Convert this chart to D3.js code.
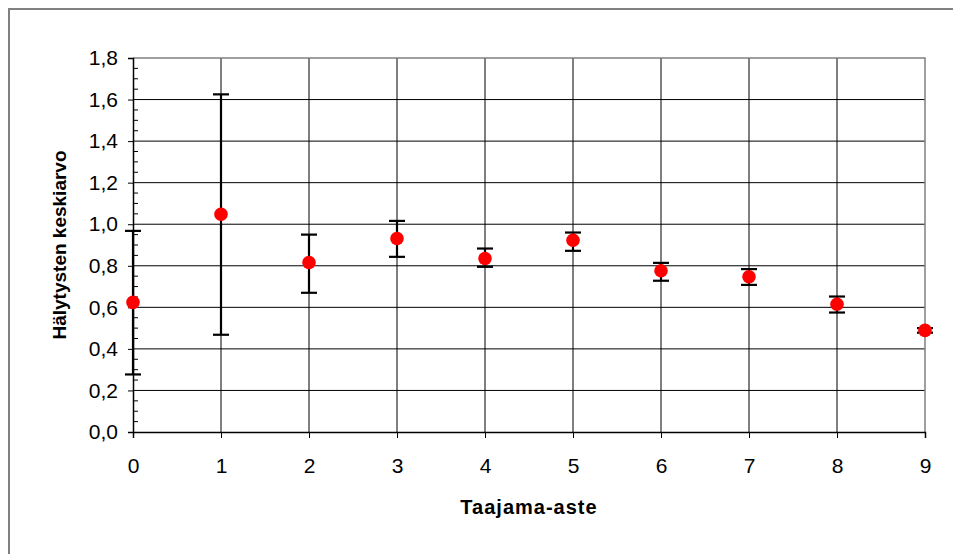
<!DOCTYPE html>
<html lang="fi">
<head>
	<meta charset="utf-8">
	<title>Hälytysten keskiarvo</title>
	<script src="https://d3js.org/d3.v7.min.js"></script>
	<style type="text/css">
		body{ margin: 0; background: #fff; }
		svg{ display: block; font-family: "Liberation Sans", Arial, sans-serif; }
	</style>
</head>
<body>
	<svg id="chart" width="953" height="554"></svg>

	<script type="text/javascript">

	// data
	var categories = [0, 1, 2, 3, 4, 5, 6, 7, 8, 9]
	var means = [0.624, 1.048, 0.816, 0.931, 0.835, 0.923, 0.776, 0.747, 0.615, 0.489]
	var upper = [0.968, 1.625, 0.950, 1.016, 0.883, 0.960, 0.814, 0.784, 0.652, 0.500]
	var lower = [0.277, 0.468, 0.670, 0.843, 0.795, 0.872, 0.728, 0.708, 0.575, 0.478]
	var yTicks = [0, 0.2, 0.4, 0.6, 0.8, 1.0, 1.2, 1.4, 1.6, 1.8]

	var xTitle = "Taajama-aste"
	var yTitle = "Hälytysten keskiarvo"

	var margin = {top: 58, left: 133, right: 28, bottom: 122}
	var W = 953, H = 554
	var width = W - margin.left - margin.right
	var height = H - margin.top - margin.bottom

	var fmt = d => d3.format(".1f")(d).replace(".", ",")

	var svg = d3.select("#chart")

	// outer chart frame (runs off the bottom/right of the picture)
	svg.append("rect")
		.attr("x", 9).attr("y", 9)
		.attr("width", 1000).attr("height", 600)
		.attr("fill", "none")
		.attr("stroke", "#808080")
		.attr("stroke-width", 2)

	var g = svg.append("g")
		.attr("transform", "translate(" + margin.left + "," + margin.top + ")")

	var x = d3.scaleLinear().domain([0, 9]).range([0, width])
	var y = d3.scaleLinear().domain([0, 1.8]).range([height, 0])

	// horizontal grid
	g.append("g")
		.selectAll("line")
		.data(yTicks.filter(d => d > 0 && d < 1.8))
		.join("line")
		.attr("x1", 0).attr("x2", width)
		.attr("y1", d => y(d)).attr("y2", d => y(d))
		.attr("stroke", "#000").attr("stroke-width", 1)

	// vertical grid
	g.append("g")
		.selectAll("line")
		.data(categories.filter(d => d > 0 && d < 9))
		.join("line")
		.attr("x1", d => x(d)).attr("x2", d => x(d))
		.attr("y1", 0).attr("y2", height)
		.attr("stroke", "#000").attr("stroke-width", 1)

	// plot area border top / right
	g.append("path")
		.attr("d", "M0," + y(1.8) + "H" + x(9) + "V" + height)
		.attr("fill", "none")
		.attr("stroke", "#808080")
		.attr("stroke-width", 1.5)

	// y axis
	var yAxis = g.append("g")
		.call(d3.axisLeft(y).tickValues(yTicks).tickFormat(fmt).tickSize(5).tickPadding(10))
	yAxis.select(".domain").attr("stroke", "#000").attr("stroke-width", 1.5)
	yAxis.selectAll("text").attr("font-size", 21).attr("fill", "#000")
		.attr("font-family", "Liberation Sans, Arial, sans-serif")

	// minor ticks inside
	g.append("g")
		.selectAll("line")
		.data(d3.range(0, 37).map(i => i * 0.05).filter((d, i) => i % 4 != 0))
		.join("line")
		.attr("x1", 0).attr("x2", 5)
		.attr("y1", d => y(d)).attr("y2", d => y(d))
		.attr("stroke", "#000").attr("stroke-width", 1)

	// x axis
	var xAxis = g.append("g")
		.attr("transform", "translate(0," + height + ")")
		.call(d3.axisBottom(x).tickValues(categories).tickFormat(d3.format("d")).tickSize(6).tickPadding(20))
	xAxis.select(".domain").attr("stroke", "#000").attr("stroke-width", 1.5)
	xAxis.selectAll("text").attr("font-size", 21).attr("fill", "#000")
		.attr("font-family", "Liberation Sans, Arial, sans-serif")

	// error bars
	var eb = g.append("g")
		.attr("stroke", "#000")
		.attr("stroke-width", 2.2)
	eb.selectAll("line.bar")
		.data(categories)
		.join("line").attr("class", "bar")
		.attr("x1", d => x(d)).attr("x2", d => x(d))
		.attr("y1", (d, i) => y(upper[i])).attr("y2", (d, i) => y(lower[i]))
	eb.selectAll("line.capU")
		.data(categories)
		.join("line").attr("class", "capU")
		.attr("x1", d => x(d) - 8).attr("x2", d => x(d) + 8)
		.attr("y1", (d, i) => y(upper[i])).attr("y2", (d, i) => y(upper[i]))
	eb.selectAll("line.capL")
		.data(categories)
		.join("line").attr("class", "capL")
		.attr("x1", d => x(d) - 8).attr("x2", d => x(d) + 8)
		.attr("y1", (d, i) => y(lower[i])).attr("y2", (d, i) => y(lower[i]))

	// points
	g.append("g")
		.selectAll("circle")
		.data(categories)
		.join("circle")
		.attr("cx", d => x(d))
		.attr("cy", (d, i) => y(means[i]))
		.attr("r", 6.8)
		.attr("fill", "#ff0000")

	// axis titles
	svg.append("text")
		.attr("x", margin.left + width / 2)
		.attr("y", 514)
		.attr("text-anchor", "middle")
		.attr("font-size", 20)
		.attr("font-weight", "bold")
		.attr("letter-spacing", 1)
		.text(xTitle)

	svg.append("text")
		.attr("transform", "translate(66," + (margin.top + height / 2) + ") rotate(-90)")
		.attr("text-anchor", "middle")
		.attr("font-size", 19)
		.attr("font-weight", "bold")
		.text(yTitle)

	</script>
</body>
</html>
